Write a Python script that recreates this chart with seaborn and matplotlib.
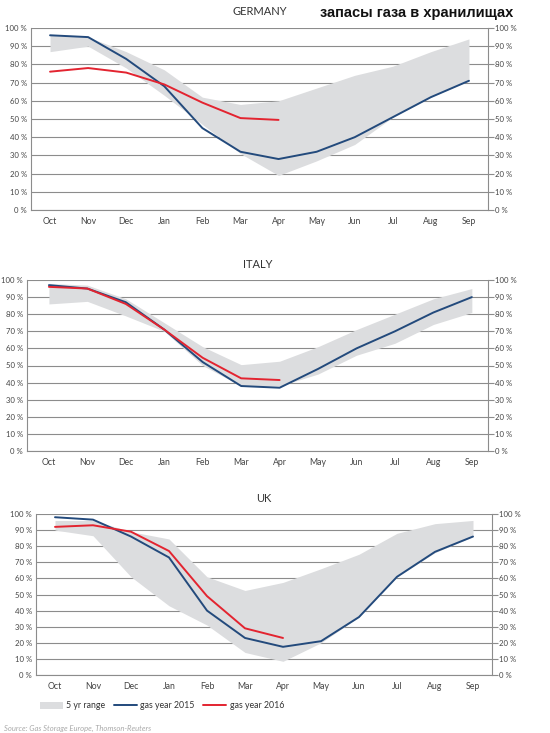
import matplotlib
matplotlib.use("Agg")
import matplotlib.pyplot as plt
import seaborn as sns
import numpy as np
from matplotlib.patches import Patch
from matplotlib.lines import Line2D

months = ['Oct', 'Nov', 'Dec', 'Jan', 'Feb', 'Mar', 'Apr', 'May', 'Jun', 'Jul', 'Aug', 'Sep']

# Germany
de_2015 = [96, 95, 83, 68, 45, 32, 28, 32, 40, 51, 62, 71]
de_2016 = [76, 78, 75.5, 69, 59, 50.5, 49.5]
de_low = [87, 90, 78, 63, 47, 31, 19, 27, 36, 51, 62, 71]
de_high = [96, 95, 87, 77, 62, 58, 60, 67, 74, 79, 87, 94]

# Italy
it_2015 = [97, 95, 87, 71, 52, 38, 37, 48, 60, 70, 81, 90]
it_2016 = [96, 95, 86, 71, 54.5, 42.5, 41.5]
it_low = [86, 87.5, 79, 70, 50, 38, 38, 45, 56, 63, 74, 81]
it_high = [98, 97, 89, 75, 61, 50.5, 52.5, 61, 71, 80, 89, 95]

# UK
uk_2015 = [98, 96.5, 86, 73, 40, 23, 17.5, 21, 36, 61, 76.5, 86]
uk_2016 = [92, 93, 89, 77, 49, 29, 23]
uk_low = [90, 86.5, 61, 43, 31, 14, 8.5, 20, 36, 61, 76, 86]
uk_high = [96, 96, 89, 84.5, 61, 52.5, 57.5, 66, 75, 88, 94, 96]

BLUE = '#234a7c'
RED = '#e32430'
BAND = '#dcdddf'
GRID = '#8c8c8c'
TXT = '#444444'

sns.set_style("white")
plt.rcParams['font.family'] = ['Lato', 'DejaVu Sans']

fig = plt.figure(figsize=(5.5, 7.33), dpi=100)
W, H = 550.0, 733.0


def make_axes(left, right, top, bottom):
    return fig.add_axes([left / W, 1 - bottom / H, (right - left) / W, (bottom - top) / H])


def storage_panel(ax, title, low, high, y2015, y2016, xlim):
    x = np.arange(len(months))
    ax.fill_between(x, low, high, color=BAND, lw=0, zorder=2)
    sns.lineplot(x=x, y=y2015, ax=ax, color=BLUE, lw=1.4, zorder=3)
    sns.lineplot(x=x[:len(y2016)], y=y2016, ax=ax, color=RED, lw=1.4, zorder=4)
    ax.set_xlim(*xlim)
    ax.set_ylim(0, 100)
    ticks = list(range(0, 101, 10))
    labels = ['%d %%' % t for t in ticks]
    ax.set_yticks(ticks)
    ax.set_yticklabels(labels, fontsize=5.6, color=TXT)
    ax.set_xticks(x)
    ax.set_xticklabels(months, fontsize=6.3, color=TXT)
    ax.tick_params(axis='x', length=0, pad=5)
    ax.tick_params(axis='y', length=0, pad=3)
    for t in ticks:
        ax.axhline(t, color=GRID, lw=0.8, zorder=1)
    for s in ['left', 'right', 'bottom']:
        ax.spines[s].set_color(GRID)
        ax.spines[s].set_linewidth(0.8)
    ax.spines['top'].set_visible(False)
    # right-hand duplicate axis
    ax2 = ax.twinx()
    ax2.set_ylim(0, 100)
    ax2.set_yticks(ticks)
    ax2.set_yticklabels(labels, fontsize=5.6, color=TXT)
    ax2.tick_params(axis='y', length=4, width=0.8, color=GRID, pad=1)
    for s in ax2.spines.values():
        s.set_visible(False)
    ax.set_title(title, fontsize=8, color='#333333', pad=9)
    ax.set_xlabel('')
    ax.set_ylabel('')


ax_de = make_axes(31, 488, 28, 210)
storage_panel(ax_de, 'GERMANY', de_low, de_high, de_2015, de_2016, (-0.5, 11.5))

ax_it = make_axes(27, 488, 280, 451)
storage_panel(ax_it, 'ITALY', it_low, it_high, it_2015, it_2016, (-0.57, 11.42))

ax_uk = make_axes(36, 492, 514, 675)
storage_panel(ax_uk, 'UK', uk_low, uk_high, uk_2015, uk_2016, (-0.5, 11.5))

fig.text(513 / W, 1 - 13 / H, 'запасы газа в хранилищах', ha='right', va='center',
         fontsize=10.5, fontweight='bold', family=['Liberation Sans', 'DejaVu Sans'], color='#111111')

handles = [Patch(facecolor=BAND, edgecolor='none'),
           Line2D([], [], color=BLUE, lw=1.4),
           Line2D([], [], color=RED, lw=1.4)]
fig.legend(handles, ['5 yr range', 'gas year 2015', 'gas year 2016'],
           loc='center left', bbox_to_anchor=(32 / W, 1 - 706 / H), ncol=3, frameon=False,
           fontsize=6.3, handlelength=2.6, handleheight=0.9, columnspacing=1.0,
           handletextpad=0.4, labelcolor='#333333')

fig.text(4 / W, 1 - 728 / H, 'Source: Gas Storage Europe, Thomson-Reuters', fontsize=5.5,
         style='italic', color='#aaaaaa', va='center')

fig.savefig('out.png', dpi=100)
